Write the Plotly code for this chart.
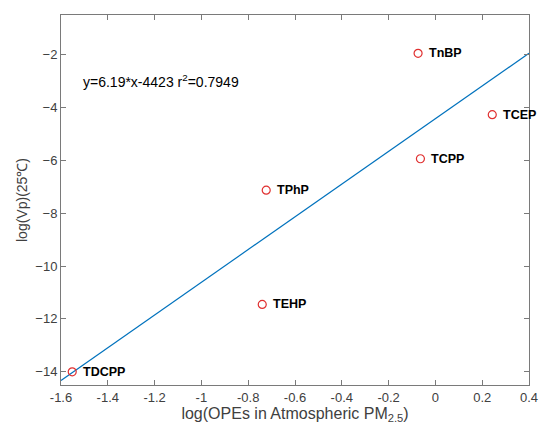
import plotly.graph_objects as go

compounds = ["TnBP", "TCEP", "TCPP", "TPhP", "TEHP", "TDCPP"]
x_vals = [-0.074, 0.243, -0.064, -0.723, -0.74, -1.552]
y_vals = [-1.95, -4.27, -5.94, -7.13, -11.45, -14.0]
fit_slope = 6.19
fit_intercept = -4.423
fit_x = [-1.6, 0.4]
x_ticks = [-1.6, -1.4, -1.2, -1, -0.8, -0.6, -0.4, -0.2, 0, 0.2, 0.4]
x_tick_text = ["-1.6", "-1.4", "-1.2", "-1", "-0.8", "-0.6", "-0.4", "-0.2", "0", "0.2", "0.4"]
y_ticks = [-14, -12, -10, -8, -6, -4, -2]
equation_text = "y=6.19*x-4423 r<sup>2</sup>=0.7949"

FONT = "Liberation Sans, Arial, sans-serif"
fit_y = [fit_slope * v + fit_intercept for v in fit_x]

fig = go.Figure()
fig.add_trace(go.Scatter(
    x=fit_x, y=fit_y, mode="lines",
    line=dict(color="#0072BD", width=1.2),
    showlegend=False, hoverinfo="skip"))
fig.add_trace(go.Scatter(
    x=x_vals, y=y_vals, mode="markers",
    marker=dict(symbol="circle-open", size=8, color="#e03030", line=dict(width=1.2, color="#e03030")),
    showlegend=False, cliponaxis=False))

for name, xv, yv in zip(compounds, x_vals, y_vals):
    fig.add_annotation(
        x=xv, y=yv, xref="x", yref="y", text="<b>" + name + "</b>",
        showarrow=False, xanchor="left", yanchor="middle", xshift=9,
        font=dict(family=FONT, size=12.5, color="black"))

fig.add_annotation(
    x=-1.515, y=-3.0, xref="x", yref="y", text=equation_text,
    showarrow=False, xanchor="left", yanchor="middle",
    font=dict(family=FONT, size=14, color="black"))

axis_common = dict(
    showline=True, linecolor="#7a7a7a", linewidth=1, mirror="ticks",
    ticks="inside", ticklen=5, tickcolor="#7a7a7a",
    showgrid=False, zeroline=False, automargin=False,
    tickfont=dict(family=FONT, size=13, color="#404040"),
)

fig.update_xaxes(
    range=[-1.6, 0.4], tickvals=x_ticks, ticktext=x_tick_text,
    title=dict(text="log(OPEs in Atmospheric PM<sub>2.5</sub>)", standoff=2,
               font=dict(family=FONT, size=16, color="#404040")),
    **axis_common)
fig.update_yaxes(
    range=[-14.5, -0.5], tickvals=y_ticks,
    title=dict(text="log(Vp)(25℃)", standoff=4,
               font=dict(family=FONT, size=14, color="#404040")),
    **axis_common)

fig.update_layout(
    width=541, height=430,
    margin=dict(l=61, r=12, t=15, b=45),
    paper_bgcolor="white", plot_bgcolor="white",
)

fig.write_html(
    "out.html",
    config={"displayModeBar": False},
    post_script="document.body.style.margin='0';document.body.style.overflow='hidden';",
)
